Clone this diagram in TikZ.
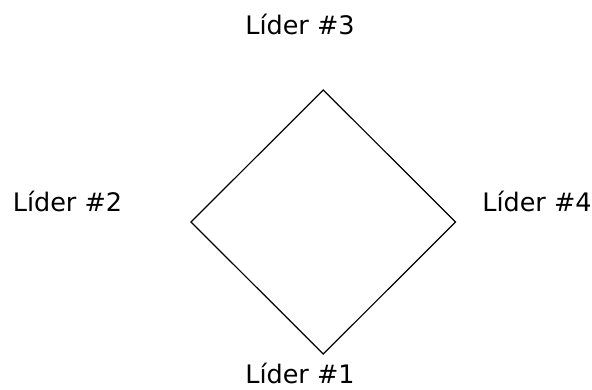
\documentclass[tikz,border=0pt]{standalone}
\usepackage{fontspec}
\setmainfont{DejaVu Sans}
\begin{document}
\begin{tikzpicture}[x=1pt,y=-1pt,
  lbl/.style={anchor=base,inner sep=0pt,font=\fontsize{25.5}{30}\selectfont},
  edge/.style={draw=black,line width=1.2pt,line join=miter}]
\useasboundingbox (0,0) rectangle (592,390);
\coordinate (t) at (323.3,90);
\coordinate (l) at (191,222);
\coordinate (r) at (455.5,222);
\coordinate (b) at (323.3,354);
\draw[edge] (t) -- (r) -- (b) -- (l) -- cycle;
\node[lbl] (n3) at (300,35) {Líder \#3};
\node[lbl] (n2) at (67.5,211.5) {Líder \#2};
\node[lbl] (n4) at (537,211.5) {Líder \#4};
\node[lbl] (n1) at (300,383) {Líder \#1};
\end{tikzpicture}
\end{document}
